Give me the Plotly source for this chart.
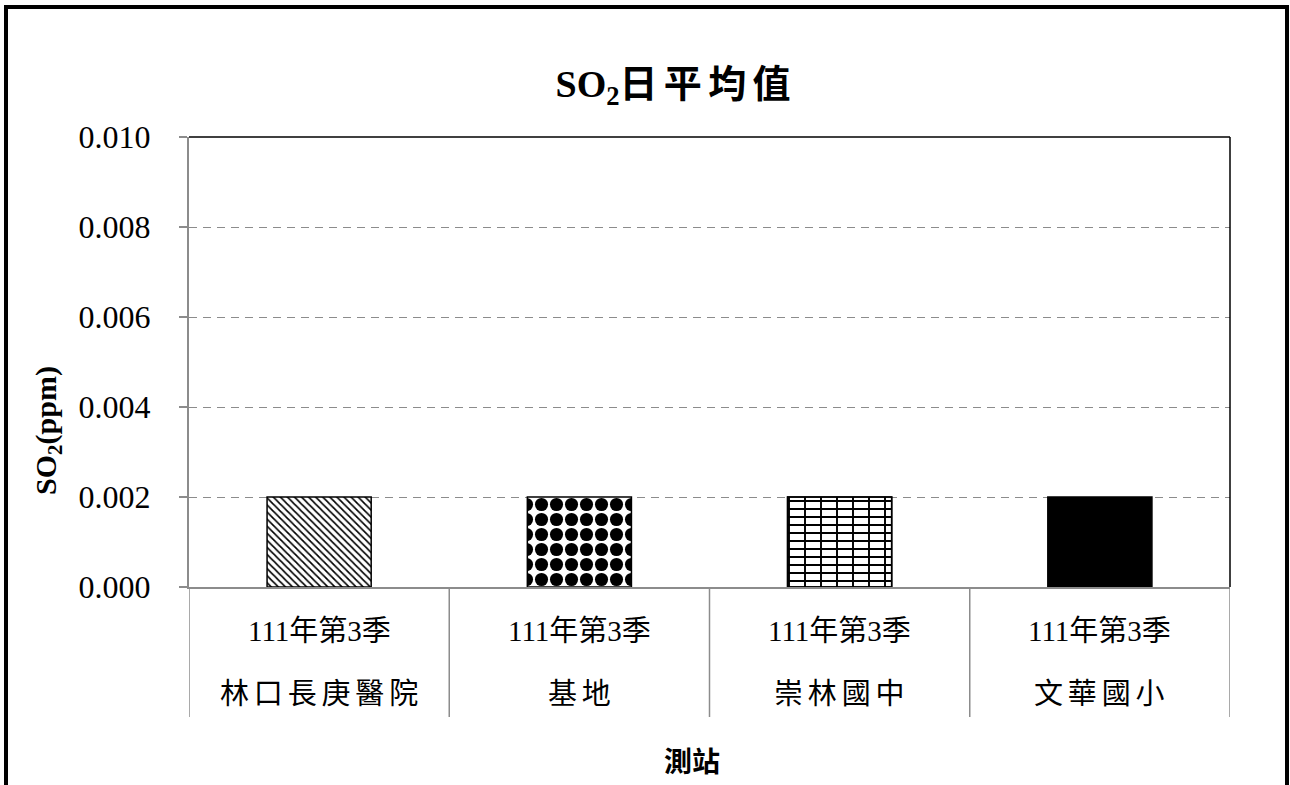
import plotly.graph_objects as go

# Daily mean SO2 by monitoring station
stations = ["林口長庚醫院", "基地", "崇林國中", "文華國小"]
quarters = ["111年第3季", "111年第3季", "111年第3季", "111年第3季"]
so2_ppm = [0.002, 0.002, 0.002, 0.002]
y_ticks = [0.000, 0.002, 0.004, 0.006, 0.008, 0.010]

# plot-area geometry in pixels (used to place frame items in paper units)
W, H = 1290, 785
L, R, T, B = 189, 60, 137, 198
pw, ph = W - L - R, H - T - B


def px_x(v):
    return (v - L) / pw


def px_y(v):
    return (H - B - v) / ph


def spaced(s, gap="\u2006"):
    return gap.join(s)


serif = "Liberation Serif, Times New Roman, Noto Sans CJK TC, serif"
grey = "#8c8c8c"

# fill style for each station's bar
fills = [
    [dict(color="white", pattern=dict(shape="\\", size=5, solidity=0.33, fgopacity=1,
                                      fgcolor="black", bgcolor="white"))],
    [dict(color="white", pattern=dict(shape=".", size=15, solidity=0.6, fgopacity=1,
                                      fgcolor="black", bgcolor="white"))],
    [dict(color="white", pattern=dict(shape="-", size=8, solidity=0.25, fgopacity=1,
                                      fgcolor="black", bgcolor="white")),
     dict(color="rgba(0,0,0,0)", pattern=dict(shape="|", size=16, solidity=0.12, fgopacity=1,
                                              fgcolor="black", bgcolor="rgba(0,0,0,0)"))],
    [dict(color="black")],
]

fig = go.Figure()
for i, st in enumerate(stations):
    for m in fills[i]:
        fig.add_trace(go.Bar(
            x=[st], y=[so2_ppm[i]],
            marker=dict(line=dict(color="black", width=1.5), **m),
            width=0.4, showlegend=False,
        ))

fig.update_layout(
    width=W, height=H,
    margin=dict(l=L, r=R, t=T, b=B),
    paper_bgcolor="white", plot_bgcolor="white",
    barmode="overlay",
    font=dict(family=serif, color="black"),
    title=dict(text="<b>SO<sub>2</sub>日\u2006平\u2006均\u2006值</b>",
               x=673 / W, xanchor="center", y=1 - 84 / H, yanchor="middle",
               font=dict(size=38, family=serif)),
    xaxis=dict(
        type="category", categoryorder="array", categoryarray=stations,
        showline=True, linecolor=grey, linewidth=2,
        showgrid=False, showticklabels=False, ticks="",
        range=[-0.5, len(stations) - 0.5],
    ),
    yaxis=dict(
        range=[0, 0.010],
        tickvals=y_ticks,
        tickformat=".3f",
        showline=True, linecolor=grey, linewidth=2,
        ticks="outside", ticklen=8, tickcolor=grey, tickwidth=1.5,
        ticklabelstandoff=22,
        showgrid=True, gridcolor=grey, gridwidth=1.2, griddash="8px,6px",
        zeroline=False,
        tickfont=dict(size=32, family=serif),
    ),
)

# two-row category labels under the axis
for i, st in enumerate(stations):
    fig.add_annotation(x=i, xref="x", y=px_y(631), yref="paper", text=quarters[i],
                       showarrow=False, xanchor="center", yanchor="middle",
                       font=dict(size=29, family=serif))
    fig.add_annotation(x=i, xref="x", y=px_y(694), yref="paper", text=spaced(st),
                       showarrow=False, xanchor="center", yanchor="middle",
                       font=dict(size=29, family=serif))

# category dividers
for k in range(len(stations) + 1):
    fig.add_shape(type="line", xref="x", yref="paper", x0=k - 0.5, x1=k - 0.5,
                  y0=0, y1=px_y(717), line=dict(color=grey, width=1.5))

# axis titles
fig.add_annotation(x=px_x(692), xref="paper", y=px_y(762), yref="paper",
                   text="<b>測站</b>", showarrow=False, xanchor="center", yanchor="middle",
                   font=dict(size=28, family=serif))
fig.add_annotation(x=px_x(48), xref="paper", y=px_y(431), yref="paper",
                   text="<b>SO<sub>2</sub>(ppm)</b>", textangle=-90, showarrow=False,
                   xanchor="center", yanchor="middle",
                   font=dict(size=30, family=serif))

# black top and right edges of the plotting area
fig.add_shape(type="line", xref="paper", yref="paper", x0=0, x1=1, y0=1, y1=1,
              line=dict(color="black", width=1.5))
fig.add_shape(type="line", xref="paper", yref="paper", x0=1, x1=1, y0=0, y1=1,
              line=dict(color="black", width=1.5))
# outer chart frame
fig.add_shape(type="rect", xref="paper", yref="paper",
              x0=px_x(6), x1=px_x(1287), y0=px_y(7), y1=px_y(820),
              line=dict(color="black", width=4), fillcolor="rgba(0,0,0,0)")

fig.write_html("out.html")
